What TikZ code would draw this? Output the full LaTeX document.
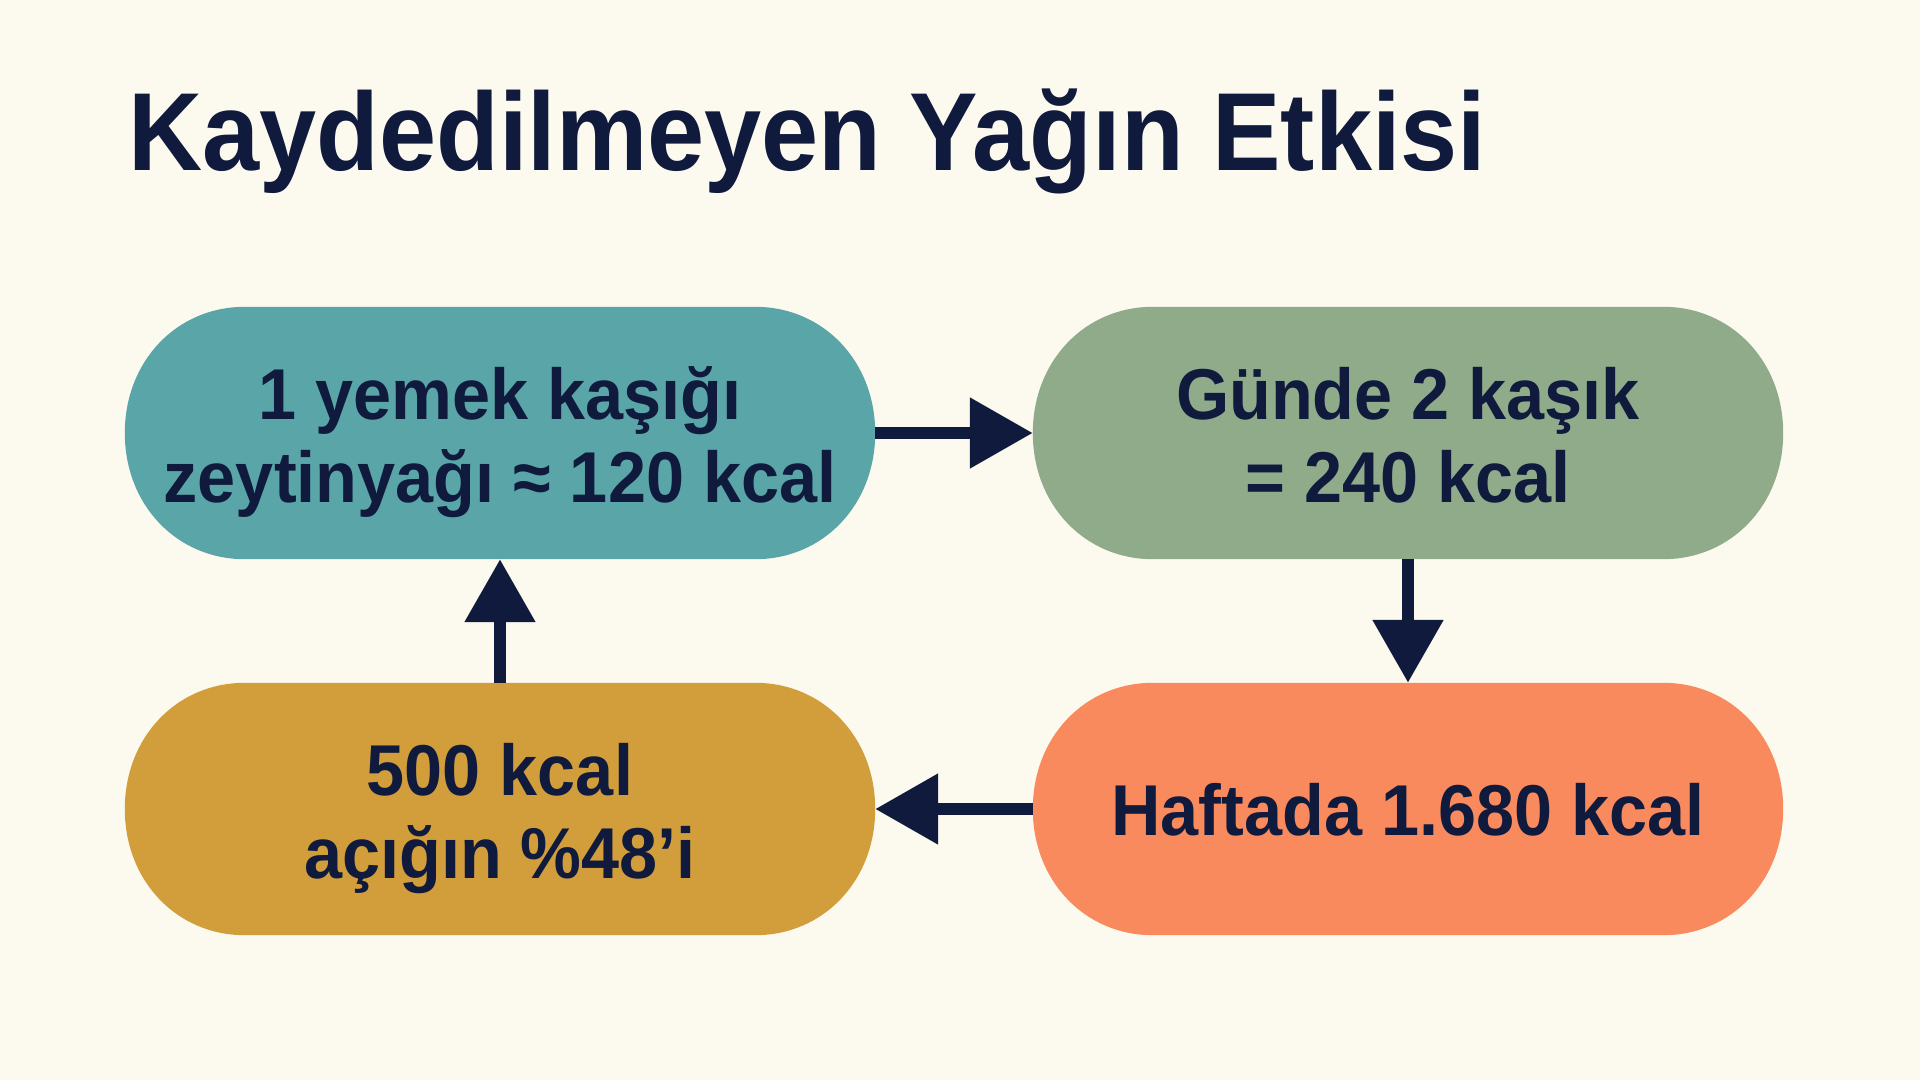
\documentclass[tikz,border=0pt]{standalone}
\usepackage{fontspec}
\setmainfont{Liberation Sans}[FakeStretch=0.95]
\newfontfamily\titlefont{Liberation Sans}[FakeStretch=0.925]
\usetikzlibrary{arrows.meta}
\definecolor{bg}{HTML}{FCF9EE}
\definecolor{navy}{HTML}{0F1A3D}
\definecolor{tealbox}{HTML}{5AA5A8}
\definecolor{sagebox}{HTML}{8FAB8A}
\definecolor{orangebox}{HTML}{F98A5D}
\definecolor{mustardbox}{HTML}{D19E3B}
% soft pill ends filled behind a named rectangular node
\newcommand\pillfill[2]{%
  \fill[#2] ([xshift=120pt]#1.north west) -- ([xshift=-120pt]#1.north east)
    .. controls ([xshift=-52pt]#1.north east) and ([yshift=72pt]#1.east) .. (#1.east)
    .. controls ([yshift=-72pt]#1.east) and ([xshift=-52pt]#1.south east) .. ([xshift=-120pt]#1.south east)
    -- ([xshift=120pt]#1.south west)
    .. controls ([xshift=52pt]#1.south west) and ([yshift=-72pt]#1.west) .. (#1.west)
    .. controls ([yshift=72pt]#1.west) and ([xshift=52pt]#1.north west) .. cycle;}
\begin{document}
\begin{tikzpicture}[x=1pt,y=-1pt,
  pill/.style={rectangle, minimum width=750pt, minimum height=252pt, inner sep=0pt, draw=none},
  lbl/.style={anchor=base, inner sep=0pt, text=navy, font=\fontsize{72}{80}\selectfont\bfseries},
  flow/.style={draw=navy, line width=12pt, -{Triangle[length=63pt,width=68pt]}},
]
\fill[bg] (0,0) rectangle (1920,1080);
\useasboundingbox (0,0) rectangle (1920,1080);

\node[anchor=base west, inner sep=0pt, text=navy, font=\titlefont\fontsize{111}{120}\selectfont\bfseries] (title) at (128,170) {Kaydedilmeyen Yağın Etkisi};

\node[pill] (b1) at (500,433) {};
\node[pill] (b2) at (1408,433) {};
\node[pill] (b3) at (1408,809) {};
\node[pill] (b4) at (500,809) {};
\pillfill{b1}{tealbox}
\pillfill{b2}{sagebox}
\pillfill{b3}{orangebox}
\pillfill{b4}{mustardbox}

\node[lbl] (t1a) at (500,419) {1 yemek kaşığı};
\node[lbl] (t1b) at (500,502) {zeytinyağı ≈ 120 kcal};
\node[lbl] (t2a) at (1408,419) {Günde 2 kaşık};
\node[lbl] (t2b) at (1408,502) {= 240 kcal};
\node[lbl] (t3) at (1408,835) {Haftada 1.680 kcal};
\node[lbl] (t4a) at (500,795) {500 kcal};
\node[lbl] (t4b) at (500,878) {açığın \%48’i};

\draw[flow] (b1.east) -- (b2.west);
\draw[flow] (b2.south) -- (b3.north);
\draw[flow] (b3.west) -- (b4.east);
\draw[flow] (b4.north) -- (b1.south);
\end{tikzpicture}
\end{document}
